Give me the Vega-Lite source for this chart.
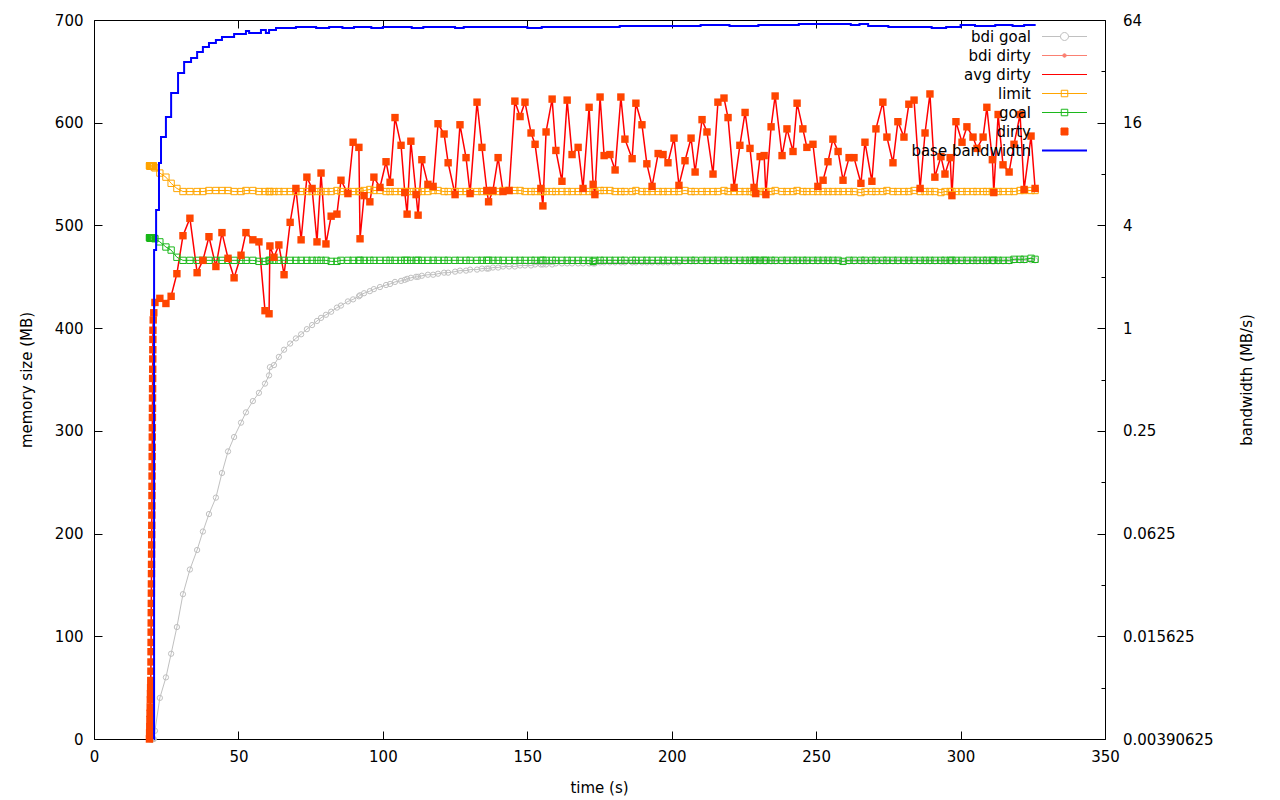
{
"$schema": "https://vega.github.io/schema/vega-lite/v6.json",
"autosize": {"type": "none"},
"padding": {"left": 94, "top": 20, "right": 175, "bottom": 61},
"width": 1011,
"height": 719,
"config": {
  "view": {"stroke": "black", "strokeWidth": 1},
  "font": "DejaVu Sans",
  "axis": {"labelFont": "DejaVu Sans", "titleFont": "DejaVu Sans", "labelFontSize": 15, "titleFontSize": 15, "titleFontWeight": "normal", "labelColor": "black", "titleColor": "black", "tickColor": "black", "grid": false, "domain": false, "labelFlush": false, "labelOverlap": false}
},
"datasets": {
"m": [
{"t":19.2,"d":0,"l":558,"g":488,"b":0},{"t":19.25,"d":6,"l":558,"g":488,"b":0},{"t":19.3,"d":12,"l":558,"g":488,"b":0},{"t":19.35,"d":19,"l":558,"g":488,"b":0},{"t":19.4,"d":25,"l":558,"g":488,"b":0},{"t":19.45,"d":31,"l":558,"g":488,"b":0},{"t":19.5,"d":38,"l":558,"g":488,"b":0},{"t":19.55,"d":44,"l":558,"g":488,"b":0},{"t":19.6,"d":50,"l":558,"g":488,"b":0},{"t":19.65,"d":57,"l":558,"g":488,"b":0},
{"t":19.7,"d":66,"l":558,"g":488,"b":0},{"t":19.72,"d":75,"l":558,"g":488,"b":0},{"t":19.74,"d":85,"l":558,"g":488,"b":0},{"t":19.76,"d":94,"l":558,"g":488,"b":0},{"t":19.78,"d":104,"l":558,"g":488,"b":0},{"t":19.8,"d":113,"l":558,"g":488,"b":0},{"t":19.82,"d":123,"l":558,"g":488,"b":0},{"t":19.84,"d":132,"l":558,"g":488,"b":0},{"t":19.86,"d":142,"l":558,"g":488,"b":0},{"t":19.88,"d":151,"l":558,"g":488,"b":0},
{"t":19.9,"d":161,"l":558,"g":488,"b":0},{"t":19.92,"d":170,"l":558,"g":488,"b":0},{"t":19.94,"d":180,"l":558,"g":488,"b":0},{"t":19.96,"d":189,"l":558,"g":488,"b":0},{"t":19.98,"d":199,"l":558,"g":488,"b":0},{"t":20.0,"d":208,"l":558,"g":488,"b":0},{"t":20.02,"d":218,"l":558,"g":488,"b":0},{"t":20.04,"d":227,"l":558,"g":488,"b":0},{"t":20.06,"d":237,"l":558,"g":488,"b":0},{"t":20.08,"d":246,"l":558,"g":488,"b":0},
{"t":20.1,"d":256,"l":558,"g":488,"b":0},{"t":20.12,"d":265,"l":558,"g":488,"b":0},{"t":20.14,"d":275,"l":558,"g":488,"b":0},{"t":20.16,"d":284,"l":558,"g":488,"b":0},{"t":20.18,"d":294,"l":558,"g":488,"b":0},{"t":20.2,"d":303,"l":558,"g":488,"b":0},{"t":20.22,"d":313,"l":558,"g":488,"b":0},{"t":20.24,"d":322,"l":558,"g":488,"b":0},{"t":20.26,"d":332,"l":558,"g":488,"b":0},{"t":20.28,"d":341,"l":558,"g":488,"b":0},
{"t":20.3,"d":351,"l":558,"g":488,"b":0},{"t":20.32,"d":360,"l":558,"g":488,"b":0},{"t":20.34,"d":370,"l":558,"g":488,"b":0},{"t":20.36,"d":379,"l":558,"g":488,"b":0},{"t":20.38,"d":389,"l":558,"g":488,"b":0},{"t":20.4,"d":398,"l":558,"g":488,"b":0},{"t":20.5,"d":408,"l":558,"g":488,"b":0},{"t":20.7,"d":415,"l":557,"g":488,"b":0},
{"t":21.1,"d":425,"l":556,"g":487,"b":8},{"t":22.8,"d":429,"l":551,"g":484,"b":40},{"t":24.9,"d":424,"l":547,"g":479,"b":60},{"t":26.7,"d":431,"l":541,"g":476,"b":83},{"t":28.7,"d":453,"l":536,"g":469,"b":109},{"t":30.8,"d":490,"l":533,"g":466,"b":141},{"t":33.2,"d":507,"l":533,"g":466,"b":165},{"t":35.7,"d":454,"l":533,"g":466,"b":184},{"t":37.7,"d":466,"l":533,"g":466,"b":202},{"t":39.8,"d":489,"l":534,"g":466,"b":219},
{"t":42.2,"d":460,"l":534,"g":466,"b":235},{"t":44.3,"d":493,"l":534,"g":466,"b":259},{"t":46.4,"d":468,"l":534,"g":466,"b":280},{"t":48.5,"d":449,"l":533,"g":466,"b":294},{"t":50.9,"d":471,"l":533,"g":466,"b":308},{"t":52.6,"d":493,"l":534,"g":466,"b":318},{"t":55.0,"d":486,"l":534,"g":466,"b":329},{"t":57.1,"d":484,"l":533,"g":465,"b":337},{"t":59.2,"d":417,"l":533,"g":465,"b":346},{"t":60.6,"d":414,"l":533,"g":466,"b":354},
{"t":60.9,"d":480,"l":533,"g":466,"b":362},{"t":62.3,"d":469,"l":533,"g":466,"b":364},{"t":64.0,"d":481,"l":533,"g":466,"b":372},{"t":65.8,"d":452,"l":533,"g":466,"b":379},{"t":67.9,"d":503,"l":533,"g":466,"b":385},{"t":69.9,"d":536,"l":533,"g":466,"b":390},{"t":71.7,"d":486,"l":533,"g":466,"b":394},{"t":73.7,"d":547,"l":533,"g":466,"b":399},{"t":75.5,"d":536,"l":533,"g":466,"b":403},{"t":77.2,"d":484,"l":533,"g":466,"b":407},
{"t":78.6,"d":551,"l":533,"g":466,"b":410},{"t":80.3,"d":482,"l":533,"g":466,"b":413},{"t":82.1,"d":509,"l":533,"g":465,"b":416},{"t":84.1,"d":511,"l":534,"g":465,"b":420},{"t":85.5,"d":544,"l":533,"g":466,"b":422},{"t":87.9,"d":531,"l":533,"g":466,"b":426},{"t":89.7,"d":581,"l":533,"g":466,"b":428},{"t":91.7,"d":576,"l":533,"g":466,"b":431},{"t":92.1,"d":487,"l":533,"g":466,"b":432},{"t":93.5,"d":529,"l":534,"g":466,"b":434},
{"t":95.5,"d":523,"l":535,"g":466,"b":436},{"t":96.9,"d":547,"l":534,"g":466,"b":438},{"t":99.0,"d":537,"l":534,"g":466,"b":440},{"t":101.1,"d":562,"l":533,"g":466,"b":442},{"t":102.5,"d":542,"l":533,"g":466,"b":443},{"t":104.2,"d":605,"l":533,"g":466,"b":445},{"t":106.3,"d":578,"l":533,"g":466,"b":446},{"t":107.6,"d":532,"l":533,"g":466,"b":447},{"t":108.4,"d":511,"l":533,"g":466,"b":448},{"t":109.7,"d":582,"l":533,"g":466,"b":449},
{"t":111.5,"d":530,"l":533,"g":466,"b":450},{"t":112.2,"d":510,"l":533,"g":466,"b":450},{"t":113.5,"d":564,"l":533,"g":466,"b":451},{"t":115.6,"d":540,"l":533,"g":466,"b":452},{"t":117.4,"d":538,"l":534,"g":466,"b":452},{"t":119.1,"d":599,"l":534,"g":466,"b":453},{"t":121.2,"d":589,"l":533,"g":466,"b":454},{"t":122.6,"d":561,"l":533,"g":466,"b":454},{"t":125.0,"d":530,"l":533,"g":466,"b":455},{"t":126.7,"d":598,"l":533,"g":466,"b":456},
{"t":128.8,"d":566,"l":533,"g":466,"b":456},{"t":130.2,"d":531,"l":533,"g":466,"b":457},{"t":132.6,"d":620,"l":533,"g":466,"b":457},{"t":134.3,"d":576,"l":533,"g":466,"b":458},{"t":136.0,"d":534,"l":533,"g":466,"b":458},{"t":136.6,"d":523,"l":533,"g":466,"b":458},{"t":138.1,"d":534,"l":533,"g":466,"b":459},{"t":139.9,"d":566,"l":533,"g":466,"b":459},{"t":141.6,"d":533,"l":534,"g":466,"b":460},{"t":143.7,"d":534,"l":534,"g":466,"b":460},
{"t":145.7,"d":621,"l":534,"g":466,"b":460},{"t":147.5,"d":606,"l":534,"g":466,"b":461},{"t":149.2,"d":620,"l":533,"g":466,"b":461},{"t":151.3,"d":590,"l":533,"g":466,"b":461},{"t":152.7,"d":579,"l":533,"g":466,"b":462},{"t":154.7,"d":536,"l":533,"g":466,"b":462},{"t":155.4,"d":519,"l":533,"g":466,"b":462},{"t":156.5,"d":591,"l":533,"g":466,"b":462},{"t":158.6,"d":623,"l":533,"g":466,"b":462},{"t":159.9,"d":573,"l":533,"g":466,"b":463},
{"t":162.0,"d":543,"l":533,"g":466,"b":463},{"t":163.8,"d":622,"l":533,"g":466,"b":463},{"t":165.5,"d":569,"l":533,"g":466,"b":463},{"t":167.6,"d":576,"l":533,"g":466,"b":463},{"t":169.3,"d":536,"l":533,"g":466,"b":463},{"t":171.4,"d":615,"l":533,"g":466,"b":463},{"t":172.8,"d":540,"l":533,"g":465,"b":463},{"t":173.4,"d":530,"l":533,"g":466,"b":463},{"t":175.2,"d":625,"l":534,"g":466,"b":464},{"t":176.6,"d":568,"l":534,"g":466,"b":464},
{"t":178.6,"d":569,"l":534,"g":466,"b":464},{"t":180.4,"d":554,"l":533,"g":466,"b":464},{"t":182.4,"d":625,"l":533,"g":466,"b":464},{"t":183.8,"d":584,"l":533,"g":466,"b":464},{"t":186.3,"d":565,"l":533,"g":466,"b":464},{"t":187.6,"d":619,"l":534,"g":466,"b":464},{"t":189.7,"d":598,"l":533,"g":466,"b":464},{"t":191.4,"d":560,"l":533,"g":466,"b":464},{"t":193.2,"d":538,"l":533,"g":466,"b":464},{"t":195.3,"d":570,"l":533,"g":466,"b":464},
{"t":197.0,"d":569,"l":533,"g":466,"b":464},{"t":198.7,"d":561,"l":533,"g":466,"b":464},{"t":200.8,"d":585,"l":533,"g":466,"b":464},{"t":202.5,"d":539,"l":533,"g":466,"b":464},{"t":204.6,"d":563,"l":534,"g":466,"b":465},{"t":206.7,"d":585,"l":533,"g":466,"b":465},{"t":208.1,"d":552,"l":533,"g":466,"b":465},{"t":210.5,"d":603,"l":533,"g":466,"b":465},{"t":212.2,"d":591,"l":533,"g":466,"b":465},{"t":214.3,"d":550,"l":533,"g":466,"b":465},
{"t":216.0,"d":620,"l":533,"g":466,"b":465},{"t":218.1,"d":624,"l":534,"g":466,"b":465},{"t":219.5,"d":605,"l":533,"g":466,"b":465},{"t":221.6,"d":537,"l":533,"g":466,"b":465},{"t":223.6,"d":578,"l":533,"g":466,"b":465},{"t":225.4,"d":610,"l":533,"g":466,"b":465},{"t":227.1,"d":575,"l":533,"g":466,"b":465},{"t":228.5,"d":537,"l":532,"g":466,"b":465},{"t":229.1,"d":531,"l":533,"g":466,"b":465},{"t":230.6,"d":567,"l":533,"g":466,"b":465},
{"t":232.0,"d":568,"l":533,"g":466,"b":465},{"t":232.6,"d":530,"l":533,"g":466,"b":465},{"t":234.4,"d":596,"l":533,"g":466,"b":465},{"t":235.8,"d":626,"l":534,"g":466,"b":465},{"t":238.2,"d":568,"l":533,"g":466,"b":465},{"t":239.9,"d":594,"l":533,"g":466,"b":465},{"t":242.0,"d":572,"l":533,"g":466,"b":465},{"t":243.4,"d":619,"l":534,"g":466,"b":465},{"t":245.4,"d":594,"l":533,"g":466,"b":465},{"t":246.8,"d":576,"l":533,"g":466,"b":465},
{"t":248.9,"d":579,"l":533,"g":466,"b":465},{"t":250.6,"d":538,"l":533,"g":466,"b":465},{"t":252.4,"d":544,"l":533,"g":466,"b":465},{"t":254.1,"d":562,"l":533,"g":466,"b":465},{"t":255.8,"d":584,"l":533,"g":466,"b":465},{"t":257.6,"d":572,"l":533,"g":466,"b":465},{"t":259.3,"d":544,"l":533,"g":465,"b":465},{"t":261.4,"d":566,"l":533,"g":466,"b":465},{"t":263.1,"d":566,"l":533,"g":466,"b":465},{"t":265.5,"d":541,"l":532,"g":466,"b":465},
{"t":266.9,"d":581,"l":533,"g":466,"b":465},{"t":269.3,"d":543,"l":533,"g":466,"b":465},{"t":270.7,"d":594,"l":533,"g":466,"b":465},{"t":273.1,"d":620,"l":533,"g":466,"b":465},{"t":274.5,"d":586,"l":534,"g":466,"b":465},{"t":276.6,"d":561,"l":533,"g":466,"b":465},{"t":278.3,"d":601,"l":533,"g":466,"b":465},{"t":280.4,"d":586,"l":533,"g":466,"b":465},{"t":282.1,"d":618,"l":533,"g":466,"b":465},{"t":283.9,"d":622,"l":534,"g":466,"b":465},
{"t":286.0,"d":536,"l":533,"g":466,"b":465},{"t":287.7,"d":590,"l":533,"g":466,"b":465},{"t":289.4,"d":628,"l":533,"g":466,"b":465},{"t":291.1,"d":547,"l":533,"g":466,"b":465},{"t":293.2,"d":567,"l":532,"g":466,"b":465},{"t":294.6,"d":550,"l":533,"g":466,"b":465},{"t":296.4,"d":566,"l":533,"g":466,"b":465},{"t":297.0,"d":529,"l":533,"g":466,"b":465},{"t":298.4,"d":601,"l":533,"g":466,"b":465},{"t":300.5,"d":581,"l":533,"g":466,"b":465},
{"t":302.2,"d":596,"l":533,"g":466,"b":465},{"t":304.3,"d":586,"l":533,"g":466,"b":465},{"t":305.7,"d":575,"l":533,"g":466,"b":465},{"t":307.8,"d":586,"l":533,"g":466,"b":465},{"t":309.1,"d":615,"l":533,"g":466,"b":465},{"t":311.0,"d":564,"l":533,"g":466,"b":465},{"t":311.5,"d":532,"l":533,"g":466,"b":465},{"t":313.0,"d":608,"l":533,"g":466,"b":465},{"t":314.7,"d":559,"l":533,"g":466,"b":465},{"t":316.8,"d":552,"l":533,"g":466,"b":465},
{"t":318.5,"d":579,"l":533,"g":467,"b":466},{"t":320.6,"d":608,"l":534,"g":467,"b":466},{"t":322.0,"d":535,"l":534,"g":467,"b":466},{"t":324.4,"d":587,"l":534,"g":468,"b":466},{"t":325.8,"d":536,"l":534,"g":467,"b":466}
],
"bw": [
{"t":20.7,"bw":0.0039},{"t":20.8,"bw":2.87},{"t":21.5,"bw":4.93},{"t":22.5,"bw":9.28},{"t":23.2,"bw":13.2},{"t":24.9,"bw":17.3},{"t":26.7,"bw":23.9},{"t":29.1,"bw":31.3},{"t":31.2,"bw":36.3},{"t":33.6,"bw":38.3},
{"t":35.7,"bw":41.5},{"t":37.7,"bw":44.4},{"t":39.8,"bw":46.9},{"t":42.2,"bw":48.8},{"t":44.3,"bw":50.8},{"t":48.5,"bw":53.0},{"t":52.6,"bw":55.1},{"t":53.7,"bw":53.7},{"t":57.8,"bw":55.9},{"t":59.5,"bw":53.7},
{"t":60.6,"bw":55.9},{"t":63.0,"bw":57.4},{"t":69.9,"bw":58.2},{"t":76.9,"bw":57.4},{"t":81.4,"bw":58.2},{"t":86,"bw":57.4},{"t":90,"bw":58.2},{"t":96,"bw":57.4},{"t":100,"bw":58.2},{"t":110,"bw":57.4},
{"t":114,"bw":58.2},{"t":125,"bw":57.4},{"t":128,"bw":58.2},{"t":150,"bw":57.4},{"t":155,"bw":58.2},{"t":170,"bw":58.2},{"t":182,"bw":59.0},{"t":200,"bw":59.0},{"t":210,"bw":59.8},{"t":220,"bw":59.0},
{"t":230,"bw":59.8},{"t":244,"bw":60.6},{"t":262,"bw":59.8},{"t":265,"bw":60.6},{"t":268,"bw":59.0},{"t":275,"bw":58.2},{"t":290,"bw":57.4},{"t":295,"bw":58.2},{"t":300,"bw":59.8},{"t":305,"bw":59.0},
{"t":312,"bw":59.8},{"t":318,"bw":59.0},{"t":322,"bw":59.8},{"t":326,"bw":59.8}
]
},
"layer": [
{
  "data": {"name": "m"},
  "encoding": {
    "x": {"field": "t", "type": "quantitative", "scale": {"domain": [0, 350], "nice": false, "zero": false},
      "axis": {"values": [0,50,100,150,200,250,300,350], "tickSize": -8, "labelPadding": 18.5, "title": "time (s)", "titleX": 505, "titleY": 48, "titleAlign": "center", "titleBaseline": "middle"}}
  },
  "layer": [
    {"mark": {"type": "line", "color": "#c0c0c0", "strokeWidth": 1},
     "encoding": {"y": {"field": "b", "type": "quantitative", "title": "memory size (MB)", "scale": {"domain": [0, 700], "nice": false},
        "axis": {"values": [0,100,200,300,400,500,600,700], "tickSize": -8, "labelPadding": 19, "titleX": -68, "titleY": 359.5, "titleAngle": -90, "titleAlign": "center", "titleBaseline": "middle"}}}},
    {"mark": {"type": "point", "shape": "circle", "filled": false, "color": "#c0c0c0", "size": 28, "strokeWidth": 1, "opacity": 1},
     "encoding": {"y": {"field": "b", "type": "quantitative", "title": "memory size (MB)"}}},
    {"mark": {"type": "line", "strokeWidth": 1.5},
     "encoding": {"y": {"field": "d", "type": "quantitative", "title": "memory size (MB)"},
       "color": {"datum": "avg dirty", "type": "nominal",
         "scale": {"domain": ["bdi goal","bdi dirty","avg dirty","limit","goal","dirty","base bandwidth"], "range": ["#c0c0c0","#fa8072","#ff0000","#ffa500","#1cb81c","#ff4500","#0000ff"]},
         "legend": {"title": null, "orient": "none", "legendX": 963, "legendY": 9, "padding": 0, "offset": 0,
           "labelAlign": "right", "labelOffset": -41, "labelFont": "DejaVu Sans", "labelFontSize": 15, "labelColor": "black", "labelLimit": 400,
           "symbolSize": 100, "rowPadding": 3,
           "encode": {"symbols": {"update": {
             "shape": {"signal": "datum.value === 'bdi goal' ? 'M-4.5,0H-0.8M0.8,0H4.5M-0.8,0A0.8,0.8,0,1,1,0.8,0A0.8,0.8,0,1,1,-0.8,0' : datum.value === 'bdi dirty' ? 'M-4.5,0H4.5M-0.35,0A0.35,0.35,0,1,1,0.35,0A0.35,0.35,0,1,1,-0.35,0' : (datum.value === 'limit' || datum.value === 'goal') ? 'M-4.5,0H4.5M-0.65,-0.65H0.65V0.65H-0.65Z' : datum.value === 'dirty' ? 'M-0.7,-0.7H0.7V0.7H-0.7Z' : 'M-4.5,0H4.5'"},
             "stroke": {"signal": "scale('color', datum.value)"},
             "fill": {"signal": "(datum.value === 'dirty' || datum.value === 'bdi dirty') ? scale('color', datum.value) : 'transparent'"},
             "strokeWidth": {"signal": "datum.value === 'base bandwidth' ? 2 : 1"},
             "opacity": {"value": 1}
           }}}}}}},
    {"mark": {"type": "line", "color": "#ffa500", "strokeWidth": 1},
     "encoding": {"y": {"field": "l", "type": "quantitative", "title": "memory size (MB)"}}},
    {"mark": {"type": "point", "shape": "square", "filled": false, "color": "#ffa500", "size": 40, "strokeWidth": 1, "opacity": 1},
     "encoding": {"y": {"field": "l", "type": "quantitative", "title": "memory size (MB)"}}},
    {"mark": {"type": "line", "color": "#1cb81c", "strokeWidth": 1},
     "encoding": {"y": {"field": "g", "type": "quantitative", "title": "memory size (MB)"}}},
    {"mark": {"type": "point", "shape": "square", "filled": false, "color": "#1cb81c", "size": 40, "strokeWidth": 1, "opacity": 1},
     "encoding": {"y": {"field": "g", "type": "quantitative", "title": "memory size (MB)"}}},
    {"mark": {"type": "point", "shape": "square", "filled": true, "color": "#ff4500", "size": 55, "opacity": 1},
     "encoding": {"y": {"field": "d", "type": "quantitative", "title": "memory size (MB)"}}}
  ]
},
{
  "data": {"name": "bw"},
  "mark": {"type": "line", "interpolate": "step-after", "color": "#0000ff", "strokeWidth": 2},
  "encoding": {
    "x": {"field": "t", "type": "quantitative", "scale": {"domain": [0, 350], "nice": false, "zero": false},
      "axis": {"orient": "top", "values": [0,50,100,150,200,250,300,350], "labels": false, "title": null, "tickSize": -8}},
    "y": {"field": "bw", "type": "quantitative", "title": "bandwidth (MB/s)",
      "scale": {"type": "log", "base": 2, "domain": [0.00390625, 64], "nice": false},
      "axis": {"orient": "right",
        "values": [0.00390625,0.0078125,0.015625,0.03125,0.0625,0.125,0.25,0.5,1,2,4,8,16,32,64],
        "labelExpr": "indexof([0.00390625,0.015625,0.0625,0.25,1,4,16,64], datum.value) >= 0 ? '' + datum.value : ''",
        "tickSize": {"condition": {"test": "indexof([0.00390625,0.015625,0.0625,0.25,1,4,16,64], datum.value) >= 0", "value": -8}, "value": -4},
        "labelPadding": 25.5, "titleX": 141.5, "titleY": 359.5, "titleAngle": -90, "titleAlign": "center", "titleBaseline": "middle"}}
  }
}
],
"resolve": {"scale": {"y": "independent"}, "axis": {"x": "independent", "y": "independent"}}
}
